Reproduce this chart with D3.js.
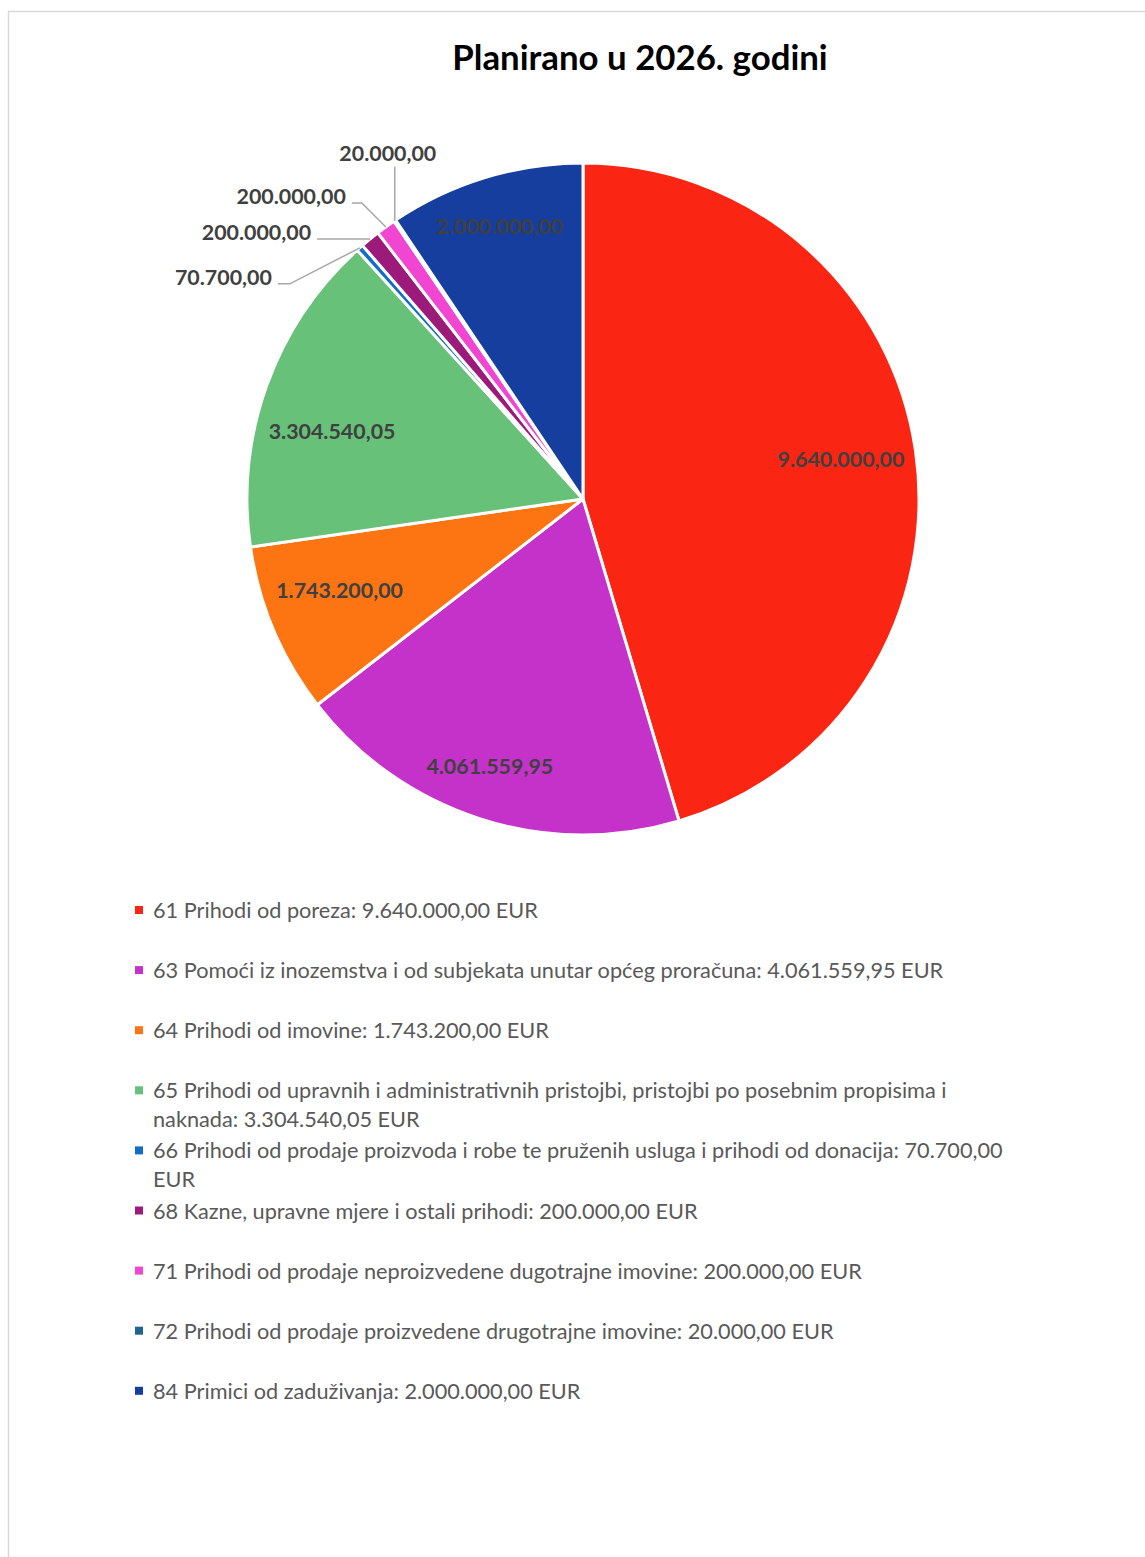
<!DOCTYPE html>
<html>
<head>
<meta charset="utf-8">
<script src="https://cdn.jsdelivr.net/npm/d3@7"></script>
<style>
  body { margin: 0; background: #fff; }
  svg { display: block; }
</style>
</head>
<body>
<div id="chart"></div>
<script>
// data
const codes = ["61", "63", "64", "65", "66", "68", "71", "72", "84"];
const names = [
    "Prihodi od poreza",
    "Pomoći iz inozemstva i od subjekata unutar općeg proračuna",
    "Prihodi od imovine",
    "Prihodi od upravnih i administrativnih pristojbi, pristojbi po posebnim propisima i naknada",
    "Prihodi od prodaje proizvoda i robe te pruženih usluga i prihodi od donacija",
    "Kazne, upravne mjere i ostali prihodi",
    "Prihodi od prodaje neproizvedene dugotrajne imovine",
    "Prihodi od prodaje proizvedene drugotrajne imovine",
    "Primici od zaduživanja"
];
const values = [9640000.00, 4061559.95, 1743200.00, 3304540.05, 70700.00, 200000.00, 200000.00, 20000.00, 2000000.00];
const colors = ["#FA2512", "#C532C9", "#FD7513", "#67C178", "#0F6FC6", "#9B1A7A", "#F046D2", "#1F6391", "#153E9F"];

const W = 1145, H = 1557;
const cx = 583, cy = 499, R = 336;

const fmt = v => {
    const s = v.toFixed(2).split(".");
    return s[0].replace(/\B(?=(\d{3})+(?!\d))/g, ".") + "," + s[1];
};

const svg = d3.select("#chart").append("svg")
    .attr("width", W)
    .attr("height", H);

// frame
svg.append("rect")
    .attr("x", 8.5).attr("y", 11.5)
    .attr("width", W).attr("height", H)
    .attr("fill", "none")
    .attr("stroke", "#d9d9d9")
    .attr("stroke-width", 1.5);

svg.append("text")
    .attr("x", 640).attr("y", 70)
    .attr("text-anchor", "middle")
    .attr("font-family", "Lato, sans-serif")
    .attr("font-weight", "bold")
    .attr("font-size", 34.8)
    .attr("fill", "#000")
    .text("Planirano u 2026. godini");

const pie = d3.pie().sort(null).value(d => d);
const arcs = pie(values);
const arc = d3.arc().innerRadius(0).outerRadius(R);

const g = svg.append("g").attr("transform", `translate(${cx},${cy})`);

g.selectAll("path.slice")
    .data(arcs)
    .join("path")
    .attr("class", "slice")
    .attr("d", arc)
    .attr("fill", (d, i) => colors[i])
    .attr("stroke", "#fff")
    .attr("stroke-width", 3)
    .attr("stroke-linejoin", "round");

// labels: inside ones get a nudge, outside ones a leader line
const insideNudge = { 0: [-8, -1], 1: [-11, 11], 2: [4, -14], 3: [2, 23], 8: [-5, -16] };
const leaders = { 4: { dx: -70, dy: 36, h: 12 }, 5: { dx: 0, dy: 0, h: 53 }, 6: { dx: -24, dy: -24, h: 10 }, 7: { dx: 0, dy: -54, h: 0 } };

const mid = d => (d.startAngle + d.endAngle) / 2;
const labelFont = { family: "Lato, sans-serif", size: 21.4 };

arcs.forEach((d, i) => {
    const a = mid(d);
    if (insideNudge[i]) {
        const lr = R * 0.8;
        const x = Math.sin(a) * lr + insideNudge[i][0];
        const y = -Math.cos(a) * lr + insideNudge[i][1];
        g.append("text")
            .attr("x", x).attr("y", y)
            .attr("text-anchor", "middle")
            .attr("dominant-baseline", "central")
            .attr("font-family", labelFont.family)
            .attr("font-weight", "bold")
            .attr("font-size", labelFont.size)
            .attr("fill", "#404040")
            .text(fmt(values[i]));
    } else {
        const L = leaders[i];
        const x0 = Math.sin(a) * R, y0 = -Math.cos(a) * R;
        const x1 = x0 + L.dx, y1 = y0 + L.dy;
        const x2 = x1 - L.h;
        g.append("polyline")
            .attr("points", [[x0, y0], [x1, y1], [x2, y1]].map(p => p.join(",")).join(" "))
            .attr("fill", "none")
            .attr("stroke", "#a6a6a6")
            .attr("stroke-width", 1.5);
        const t = g.append("text")
            .attr("font-family", labelFont.family)
            .attr("font-weight", "bold")
            .attr("font-size", labelFont.size)
            .attr("fill", "#404040")
            .text(fmt(values[i]));
        if (L.h === 0) {
            t.attr("x", x1 - 7).attr("y", y1 - 6).attr("text-anchor", "middle");
        } else {
            t.attr("x", x2 - 6).attr("y", y1 + 1).attr("text-anchor", "end");
        }
    }
});

// legend: fixed slot per entry, wrapped lines use the slot
const legX = 135, legTextX = 153, legMaxW = 865;
const lineH = 29, slot = 60.1;
const legend = svg.append("g");
names.forEach((n, i) => {
    const y = 910 + i * slot;
    const full = `${codes[i]} ${n}: ${fmt(values[i])} EUR`;
    legend.append("rect")
        .attr("x", legX).attr("y", y - 4)
        .attr("width", 8).attr("height", 8)
        .attr("fill", colors[i]);
    const t = legend.append("text")
        .attr("x", legTextX).attr("y", y)
        .attr("dominant-baseline", "central")
        .attr("font-family", "Lato, sans-serif")
        .attr("font-size", 21.7)
        .attr("fill", "#595959");
    // simple word wrap
    const words = full.split(" ");
    let line = [];
    let ts = t.append("tspan").attr("x", legTextX).attr("dy", 0);
    words.forEach(w => {
        line.push(w);
        ts.text(line.join(" "));
        if (ts.node().getComputedTextLength() > legMaxW && line.length > 1) {
            line.pop();
            ts.text(line.join(" "));
            line = [w];
            ts = t.append("tspan").attr("x", legTextX).attr("dy", lineH).text(w);
        }
    });
});
</script>
</body>
</html>
